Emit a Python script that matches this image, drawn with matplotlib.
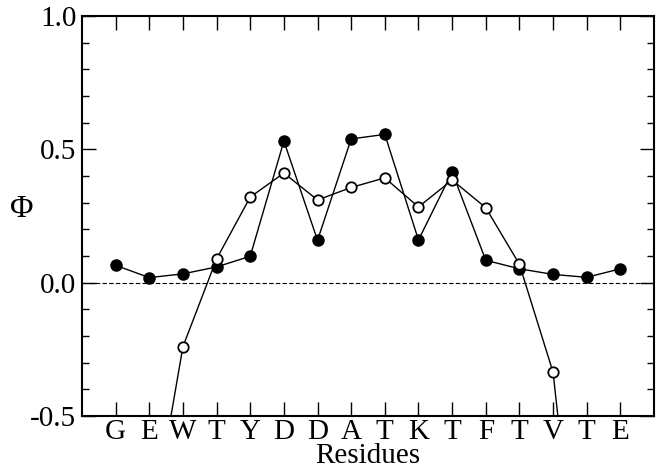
import matplotlib
matplotlib.use("Agg")
import matplotlib.pyplot as plt
import numpy as np

plt.rcParams['font.family'] = ['Liberation Serif', 'DejaVu Serif']
plt.rcParams['axes.unicode_minus'] = False

residues = ["G", "E", "W", "T", "Y", "D", "D", "A", "T", "K", "T", "F", "T", "V", "T", "E"]
phi_filled = [0.065, 0.019, 0.033, 0.059, 0.099, 0.531, 0.159, 0.539, 0.556,
              0.160, 0.415, 0.084, 0.052, 0.031, 0.020, 0.052]
# open circles: G has no value, last T is below the plot range
phi_open = [np.nan, -0.97, -0.24, 0.089, 0.321, 0.411, 0.310, 0.357, 0.393,
            0.284, 0.385, 0.281, 0.069, -0.336, -1.49, np.nan]

x = np.arange(1, len(residues) + 1)

fig = plt.figure(figsize=(6.65, 4.68), dpi=100)
ax = fig.add_axes([82 / 665, 1 - 416 / 468, (654 - 82) / 665, (416 - 16) / 468])

ax.axhline(0, color='black', linestyle='--', linewidth=0.8, dashes=(4, 2))
ax.plot(x, phi_filled, color='black', linewidth=1, marker='o', markersize=8,
        markerfacecolor='black', markeredgecolor='black')
ax.plot(x, phi_open, color='black', linewidth=1, marker='o', markersize=7.5,
        markerfacecolor='white', markeredgecolor='black', markeredgewidth=1.3)

ax.set_xlim(0, 17)
ax.set_ylim(-0.5, 1.0)
ax.set_xticks(x)
ax.set_xticklabels(residues)
ax.set_yticks([-0.5, 0.0, 0.5, 1.0])
ax.set_yticklabels(["-0.5", "0.0", "0.5", "1.0"])
ax.set_yticks(np.arange(-0.4, 1.0, 0.1), minor=True)

ax.tick_params(axis='both', which='major', direction='in', length=10, width=1,
               top=True, right=True, labelsize=21, pad=4)
ax.tick_params(axis='x', which='major', pad=2)
ax.tick_params(axis='y', which='minor', direction='in', length=5, width=1, right=True)
for s in ax.spines.values():
    s.set_linewidth(1.5)

ax.set_xlabel("Residues", fontsize=21)
ax.xaxis.set_label_coords(0.5, -0.068)
ax.set_ylabel("Φ", fontsize=23, rotation=0)
ax.yaxis.set_label_coords(-0.105, 0.48)

fig.savefig("out.png", dpi=100)
